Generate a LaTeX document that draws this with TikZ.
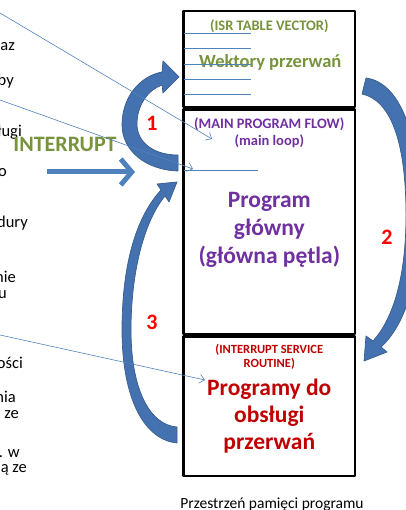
\documentclass[tikz,border=0pt]{standalone}
\usepackage{fontspec}
\setmainfont{Carlito}
\usetikzlibrary{arrows.meta}
\definecolor{isrgreen}{RGB}{119,147,60}
\definecolor{mainpurple}{RGB}{112,48,160}
\definecolor{isrred}{RGB}{192,0,0}
\definecolor{numred}{RGB}{255,0,0}
\definecolor{lineblue}{RGB}{79,129,189}
\definecolor{blockblue}{RGB}{68,114,176}
\definecolor{blockedge}{RGB}{56,93,138}
\begin{document}
\begin{tikzpicture}[x=1pt,y=-1pt,line join=round,
	memrect/.style={draw=black,line width=2.2pt},
	boxline/.style={draw=lineblue,line width=.8pt},
	thinarrow/.style={draw=lineblue,line width=.6pt,-{Straight Barb[length=5pt,width=9pt]}},
	intarrow/.style={draw=lineblue,line width=5pt,-{Straight Barb[length=11pt,width=26pt]}},
	blockarrow/.style={fill=blockblue,draw=blockedge,line width=.7pt},
	smalltxt/.style={anchor=base,inner sep=0pt,font=\fontsize{14.5}{17}\selectfont\bfseries},
	bigtxt/.style={anchor=base,inner sep=0pt,font=\fontsize{23.5}{28}\selectfont\bfseries},
	fragment/.style={anchor=base east,inner sep=0pt,font=\fontsize{16.5}{19}\selectfont},
	numlbl/.style={text=numred,inner sep=0pt,font=\fontsize{22}{24}\selectfont\bfseries}]
	\useasboundingbox (0,0) rectangle (405,510);
	\def\xl{183.5}
	\def\xr{355}
	\def\xm{269.3}
	% cut-off text of the slide on the left
	\foreach \t/\x/\y in {az/15/51,by/14/86,ługi/22/137,o/7/177,dury/28/228,nie/16/282,u/7/298,ości/23/368,nia/16/402,ze/19/418,. w/20/457,ą ze/27/472}
		\node[fragment] (frag\y) at (\x,\y) {\t};
	% program memory
	\draw[memrect] (\xl,11) rectangle (\xr,107);
	\draw[memrect] (\xl,109.5) rectangle (\xr,334);
	\draw[memrect] (\xl,336.5) rectangle (\xr,476);
	\node[smalltxt,text=isrgreen] (isrtitle) at (\xm,31) {(ISR TABLE VECTOR)};
	\node[smalltxt,text=isrgreen,font=\fontsize{18.5}{22}\selectfont\bfseries] (isrname) at (\xm+1,68) {Wektory przerwań};
	\foreach \y in {33,48,64,79,94}
		\draw[boxline] (\xl,\y) -- (251,\y);
	\node[smalltxt,text=mainpurple] (maintitle) at (\xm,129) {(MAIN PROGRAM FLOW)};
	\node[smalltxt,text=mainpurple] (mainloop) at (\xm,146) {(main loop)};
	\node[bigtxt,text=mainpurple] (mainone) at (\xm,208) {Program};
	\node[bigtxt,text=mainpurple] (maintwo) at (\xm,235) {główny};
	\node[bigtxt,text=mainpurple] (mainthree) at (\xm,263) {(główna pętla)};
	\draw[boxline] (\xl,170) -- (258,170);
	\node[smalltxt,text=isrred,font=\fontsize{12.5}{15}\selectfont\bfseries] (srtitle) at (\xm,353) {(INTERRUPT SERVICE};
	\node[smalltxt,text=isrred,font=\fontsize{12.5}{15}\selectfont\bfseries] (srtitleb) at (\xm,367) {ROUTINE)};
	\node[bigtxt,text=isrred] (srone) at (\xm,395) {Programy do};
	\node[bigtxt,text=isrred] (srtwo) at (\xm,422) {obsługi};
	\node[bigtxt,text=isrred] (srthree) at (\xm,449) {przerwań};
	\node[anchor=base,inner sep=0pt,font=\fontsize{15.5}{18}\selectfont] (caption) at (272,508) {Przestrzeń pamięci programu};
	% curved block arrows
	\filldraw[blockarrow] (178,171) .. controls (145,170) and (122,150) .. (122,125)
		.. controls (122,97) and (140,76) .. (162,72) -- (163,61) -- (179,77) -- (163,93) -- (162,85)
		.. controls (148,90) and (137,105) .. (137,124) .. controls (137,142) and (153,155) .. (178,155) -- cycle;
	\filldraw[blockarrow] (366,78) .. controls (398,82) and (420,130) .. (420,215)
		.. controls (420,290) and (400,330) .. (381,347) -- (387,352) -- (364,361) -- (366,336) -- (373,341)
		.. controls (392,320) and (406,280) .. (406,215) .. controls (406,140) and (390,100) .. (362,94) -- cycle;
	\filldraw[blockarrow] (177,443) .. controls (145,440) and (122,400) .. (122,330)
		.. controls (122,260) and (138,215) .. (161,190) -- (157,184) -- (177,182) -- (169,202) -- (165,196)
		.. controls (145,220) and (131,270) .. (131,330) .. controls (131,390) and (150,425) .. (177,427) -- cycle;
	\node[numlbl] (one) at (152,123) {1};
	\node[numlbl] (two) at (387,237) {2};
	\node[numlbl] (three) at (152,322) {3};
	% interrupt
	\node[anchor=base,inner sep=0pt,text=isrgreen,font=\fontsize{22}{26}\selectfont\bfseries] (interrupt) at (65,152) {INTERRUPT};
	\path
	(47,172) coordinate (intstart)
	(135,172) coordinate (intend)
	(0,13) coordinate (la)
	(212,139) coordinate (lb)
	(0,100) coordinate (lc)
	(193,169) coordinate (ld)
	(0,335) coordinate (le)
	(205,380) coordinate (lf)
	;
	\draw[intarrow] (intstart) -- (intend);
	\draw[thinarrow] (la) -- (lb);
	\draw[thinarrow] (lc) -- (ld);
	\draw[thinarrow] (le) -- (lf);
\end{tikzpicture}
\end{document}
